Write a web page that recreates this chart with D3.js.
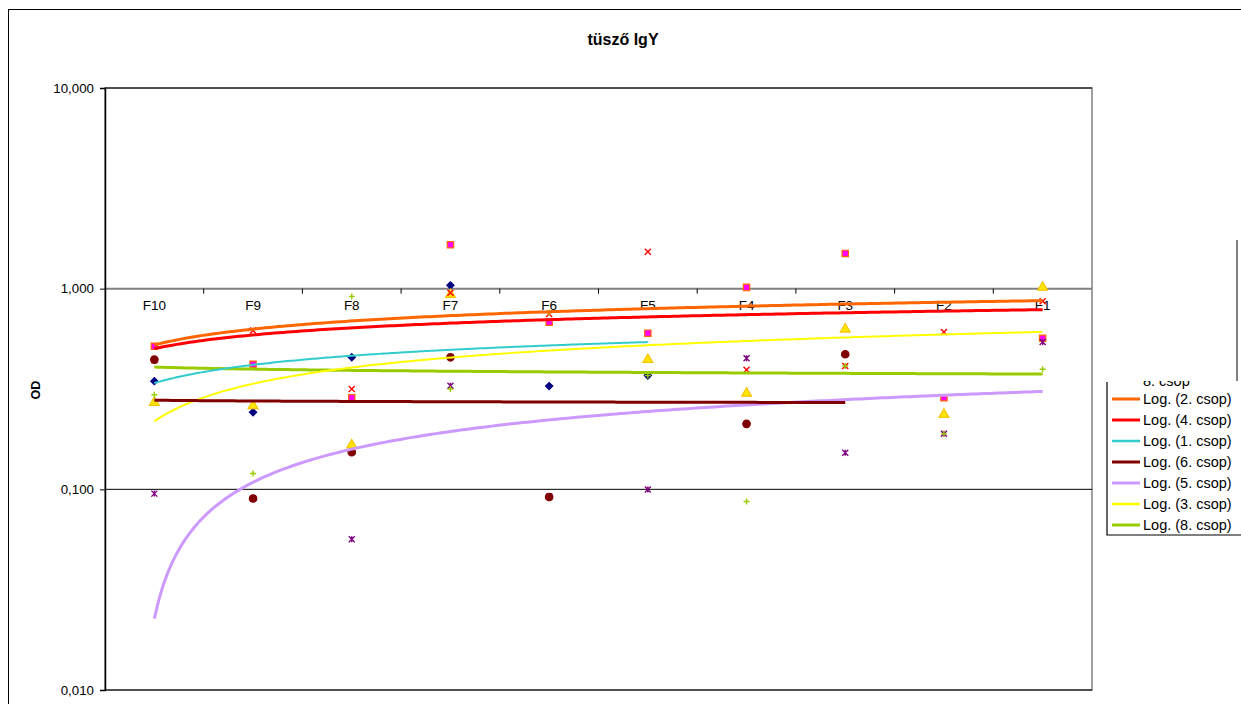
<!DOCTYPE html>
<html><head><meta charset="utf-8">
<script src="https://cdn.jsdelivr.net/npm/d3@7"></script>
<style>body{margin:0;background:#fff}svg{display:block;font-family:"Liberation Sans",Arial,sans-serif}</style>
</head><body>
<svg id="c" width="1241" height="704"></svg>
<script>
// ---- data ----
const categories = ["F10","F9","F8","F7","F6","F5","F4","F3","F2","F1"];
const yTicks = [0.01, 0.1, 1, 10];
const s1 = [0.346, 0.242, 0.455, 1.039, 0.327, 0.369];
const s2 = [0.516, 0.420, 0.286, 1.655, 0.680, 0.600, 1.015, 1.499, 0.286, 0.566];
const s3 = [0.271, 0.261, 0.166, 0.934, null, 0.443, 0.301, 0.628, 0.236, 1.015];
const s4 = [0.440, 0.618, 0.316, 0.955, 0.748, 1.528, 0.394, 0.412, 0.609, 0.865];
const s5 = [0.0952, 0.090, 0.0564, 0.328, 0.092, 0.0997, 0.450, 0.152, 0.189, 0.543];
const s6 = [0.443, 0.090, 0.153, 0.455, 0.0916, null, 0.212, 0.471];
const s8 = [0.296, 0.120, 0.915, 0.316, 0.760, 0.369, 0.087, 0.412, 0.189, 0.397];
const seriesNames = ["1. csop","2. csop","3. csop","4. csop","5. csop","6. csop","8. csop"];
const legendOrder = ["2. csop","4. csop","1. csop","6. csop","5. csop","3. csop","8. csop"];

const series = [
  {name:"1. csop", vals:s1, marker:"diamond", fill:"#000080", stroke:"#000080", trend:"#33CCCC", tw:2},
  {name:"2. csop", vals:s2, marker:"square", fill:"#FF00FF", stroke:"#FF6600", trend:"#FF6600", tw:3},
  {name:"3. csop", vals:s3, marker:"triangle", fill:"#FFE600", stroke:"#F5C400", trend:"#FFFF00", tw:2},
  {name:"4. csop", vals:s4, marker:"x", fill:"none", stroke:"#FF0000", trend:"#FF0000", tw:3},
  {name:"5. csop", vals:s5, marker:"star", fill:"none", stroke:"#800080", trend:"#CC99FF", tw:3},
  {name:"6. csop", vals:s6, marker:"circle", fill:"#800000", stroke:"#800000", trend:"#800000", tw:3},
  {name:"8. csop", vals:s8, marker:"plus", fill:"none", stroke:"#99CC00", trend:"#99CC00", tw:3}
];

const svg = d3.select("#c");
// outer frame
svg.append("rect").attr("x",8.5).attr("y",9.5).attr("width",1300).attr("height",800)
  .attr("fill","none").attr("stroke","#000").attr("stroke-width",1);

const L=105, R=1092, T=88, B=690;
const x = d3.scaleBand().domain(categories).range([L,R]);
const y = d3.scaleLog().domain([0.01,10]).range([B,T]);
const cx = i => x(categories[i]) + x.bandwidth()/2;

// plot area border
svg.append("rect").attr("x",L).attr("y",T).attr("width",R-L).attr("height",B-T)
  .attr("fill","none").attr("stroke","#808080").attr("stroke-width",1.5);
// gridlines
yTicks.forEach(t=>{
  svg.append("line").attr("x1",L).attr("x2",R).attr("y1",y(t)).attr("y2",y(t))
    .attr("stroke", t===1 ? "#808080" : "#000").attr("stroke-width", t===1?2:1);
});
// y axis
const fmt = v => d3.format(".3f")(v).replace(".",",");
const yAxis = d3.axisLeft(y).tickValues(yTicks).tickFormat(fmt).tickSize(5).tickPadding(6);
const gy = svg.append("g").attr("transform",`translate(${L},0)`).call(yAxis);
gy.select(".domain").attr("stroke","#000").attr("stroke-width",1.5);
gy.selectAll("text").attr("font-size",13.3).attr("fill","#000").attr("font-family","Liberation Sans, Arial");
// category axis at value 1
const xAxis = d3.axisBottom(x).tickSize(0).tickPadding(12);
const gx = svg.append("g").attr("transform",`translate(0,${y(1)})`).call(xAxis);
gx.select(".domain").remove();
gx.selectAll("text").attr("font-size",13.5).attr("fill","#000").attr("font-family","Liberation Sans, Arial");
categories.forEach((c,i)=>{
  const xb = x(c);
  if(i>0) svg.append("line").attr("x1",xb).attr("x2",xb).attr("y1",y(1)).attr("y2",y(1)+5)
    .attr("stroke","#000").attr("stroke-width",1);
});

// markers
const sym = {
  diamond: d3.symbol().type(d3.symbolSquare).size(26),
  square: d3.symbol().type(d3.symbolSquare).size(40),
  triangle: d3.symbol().type(d3.symbolTriangle).size(42),
  circle: d3.symbol().type(d3.symbolCircle).size(44)
};
function drawMarker(g, type, px, py, s){
  if(sym[type]){
    g.append("path").attr("d",sym[type]())
      .attr("transform",`translate(${px},${py})` + (type==="diamond"?" rotate(45)":""))
      .attr("fill",s.fill).attr("stroke",s.stroke).attr("stroke-width",1.2);
  } else {
    const r=3;
    const p = d3.path();
    if(type==="x"||type==="star"){ p.moveTo(px-r,py-r);p.lineTo(px+r,py+r);p.moveTo(px+r,py-r);p.lineTo(px-r,py+r); }
    if(type==="star"){ p.moveTo(px,py-r);p.lineTo(px,py+r); }
    if(type==="plus"){ p.moveTo(px-r,py);p.lineTo(px+r,py);p.moveTo(px,py-r);p.lineTo(px,py+r); }
    g.append("path").attr("d",p.toString()).attr("fill","none").attr("stroke",s.stroke).attr("stroke-width",1.4);
  }
}
const gm = svg.append("g");
series.forEach(s=>{
  s.vals.forEach((v,i)=>{ if(v!=null) drawMarker(gm, s.marker, cx(i), y(v), s); });
});

// logarithmic trendlines fitted from the data: v = a*ln(k) + b, k = 1..n
function fitLog(vals){
  const pts = vals.map((v,i)=>[Math.log(i+1),v]).filter(p=>p[1]!=null);
  const mx=d3.mean(pts,p=>p[0]), my=d3.mean(pts,p=>p[1]);
  const sxx=d3.sum(pts,p=>(p[0]-mx)**2), sxy=d3.sum(pts,p=>(p[0]-mx)*(p[1]-my));
  const a=sxy/sxx; return {a, b:my-a*mx, n:vals.length};
}
const step = x.step();
const gt = svg.append("g");
legendOrder.slice().reverse().forEach(nm=>{
  const s = series.find(d=>d.name===nm);
  const f = fitLog(s.vals);
  const samples = d3.range(0,201).map(j=>1+(f.n-1)*j/200);
  const line = d3.line().x(k=>cx(0)+(k-1)*step).y(k=>y(f.a*Math.log(k)+f.b));
  gt.append("path").attr("d",line(samples)).attr("fill","none")
    .attr("stroke",s.trend).attr("stroke-width",s.tw).attr("stroke-linejoin","round");
});

// title & axis title
svg.append("text").attr("x",623).attr("y",45).attr("text-anchor","middle")
  .attr("font-size",16).attr("font-weight","bold").text("tüsző IgY");
svg.append("text").attr("transform","translate(40,390) rotate(-90)").attr("text-anchor","middle")
  .attr("font-size",12.5).attr("font-weight","bold").text("OD");

// legend (partly covered as in the original)
const LG = {x:1107, top:381, bottom:535};
svg.append("line").attr("x1",1237).attr("x2",1237).attr("y1",240).attr("y2",382).attr("stroke","#000");
svg.append("defs").append("clipPath").attr("id","lgclip").append("rect")
  .attr("x",LG.x-1).attr("y",LG.top).attr("width",200).attr("height",LG.bottom-LG.top+2);
const lg = svg.append("g").attr("clip-path","url(#lgclip)");
lg.append("rect").attr("x",LG.x).attr("y",LG.top).attr("width",200).attr("height",LG.bottom-LG.top).attr("fill","#fff");
lg.append("path").attr("d",`M${LG.x},382V${LG.bottom}H1300`).attr("fill","none").attr("stroke","#000").attr("stroke-width",1.2);
// last scatter entry, mostly hidden
drawMarker(lg,"plus",1127,378,series[6]);
lg.append("text").attr("x",1143).attr("y",386).attr("font-size",14.5).text("8. csop");
legendOrder.forEach((nm,i)=>{
  const s = series.find(d=>d.name===nm);
  const yy = 399 + i*21;
  lg.append("line").attr("x1",1112).attr("x2",1140).attr("y1",yy).attr("y2",yy)
    .attr("stroke",s.trend).attr("stroke-width",s.tw===3?3:2.5);
  lg.append("text").attr("x",1143).attr("y",yy+5).attr("font-size",14.5).text(`Log. (${nm})`);
});
</script>
</body></html>
